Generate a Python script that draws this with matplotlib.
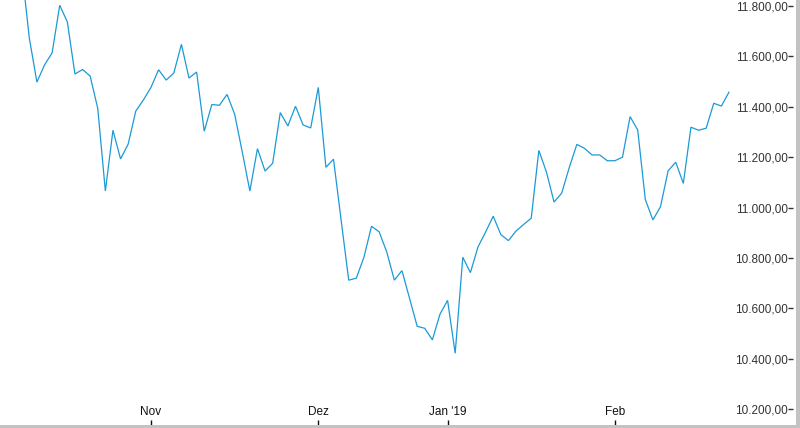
import matplotlib
matplotlib.use("Agg")
import matplotlib.pyplot as plt
from matplotlib.patches import Rectangle

# Index values (trading days)
values = [11947, 11673, 11498, 11566, 11614, 11803, 11737, 11530, 11548, 11522,
          11394, 11066, 11307, 11193, 11252, 11383, 11427, 11477, 11547, 11506,
          11534, 11648, 11514, 11538, 11303, 11409, 11406, 11449, 11371, 11221,
          11066, 11234, 11145, 11176, 11377, 11324, 11402, 11328, 11316, 11477,
          11160, 11192, 10951, 10712, 10720, 10803, 10926, 10904, 10824, 10712,
          10750, 10640, 10529, 10521, 10475, 10577, 10632, 10422, 10803, 10742,
          10844, 10903, 10966, 10893, 10869, 10907, 10933, 10958, 11227, 11141,
          11022, 11057, 11159, 11251, 11235, 11209, 11209, 11186, 11186, 11200,
          11361, 11308, 11032, 10951, 11004, 11146, 11180, 11096, 11319, 11307,
          11315, 11414, 11403, 11458]

month_tick_index = [17, 39, 56, 78]
month_labels = ["Nov", "Dez", "Jan '19", "Feb"]
y_ticks = [10200, 10400, 10600, 10800, 11000, 11200, 11400, 11600, 11800]


def de_fmt(v):
    s = f"{v:,.2f}"
    return s.replace(",", "X").replace(".", ",").replace("X", ".")


plt.rcParams['font.family'] = ['Liberation Sans', 'DejaVu Sans']

W, H = 800, 428
fig = plt.figure(figsize=(W / 100, H / 100), dpi=100)
fig.patch.set_facecolor("white")

ax_right_px = 793
ax_bottom_px = 425
ax = fig.add_axes([0, (H - ax_bottom_px) / H, ax_right_px / W, ax_bottom_px / H])
ax.set_facecolor("white")

x = list(range(len(values)))
ax.plot(x, values, color="#1b9ad6", linewidth=0.9, solid_joinstyle="miter")

# x mapping: index 0 at px 21.7, step 7.605 px
step = 7.605
x0 = 21.7
ax.set_xlim(-x0 / step, (ax_right_px - x0) / step)
# y mapping: 11800 at px 6, 200 per 50.4 px
ppv = 200 / 50.4
ax.set_ylim(11800 - (ax_bottom_px - 6) * ppv, 11800 + 6 * ppv)

for s in ax.spines.values():
    s.set_visible(False)

ax.set_xticks(month_tick_index)
ax.set_xticklabels(month_labels)
ax.tick_params(axis="x", direction="in", length=3.5, width=1, color="#111111",
               pad=-13.4, labelsize=8.5, labelcolor="#111111")

ax.yaxis.tick_right()
ax.set_yticks(y_ticks)
ax.set_yticklabels([de_fmt(v) for v in y_ticks])
ax.tick_params(axis="y", direction="in", length=3.6, width=1, color="#333333",
               pad=-3.9, labelsize=8.5, labelcolor="#333333")
for lbl in ax.get_yticklabels():
    lbl.set_horizontalalignment("right")

# gray frame bars at right and bottom
fig.patches.append(Rectangle((796 / W, 0), 4 / W, 1, transform=fig.transFigure,
                             facecolor="#c3c3c3", edgecolor="none", zorder=10))
fig.patches.append(Rectangle((0, 0), 1, 3 / H, transform=fig.transFigure,
                             facecolor="#c3c3c3", edgecolor="none", zorder=10))

fig.savefig("out.png", dpi=100, facecolor="white")
